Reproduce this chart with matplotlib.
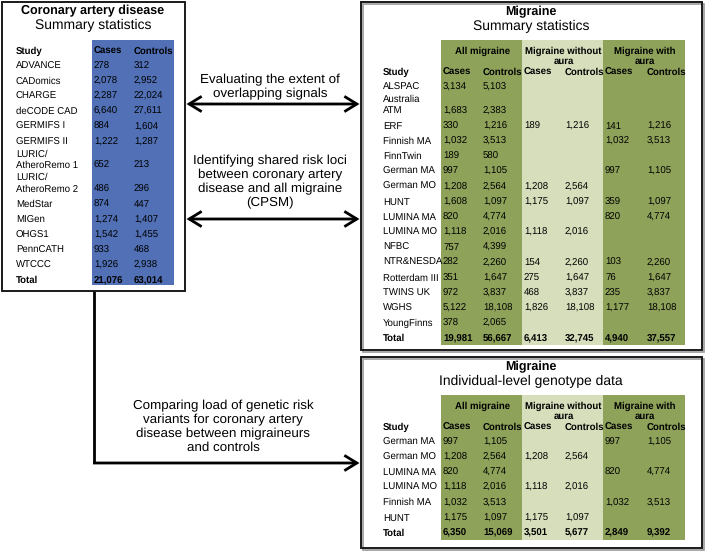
import matplotlib
matplotlib.use("Agg")
import matplotlib.pyplot as plt
from matplotlib.patches import Rectangle, FancyArrowPatch

plt.rcParams['font.family'] = ['Liberation Sans', 'DejaVu Sans']
plt.rcParams['text.hinting'] = 'no_hinting'

# ---------------- data ----------------
cad_studies = ["ADVANCE", "CADomics", "CHARGE", "deCODE CAD", "GERMIFS I", "GERMIFS II",
               "LURIC/\nAtheroRemo 1", "LURIC/\nAtheroRemo 2", "MedStar", "MIGen",
               "OHGS1", "PennCATH", "WTCCC"]
cad_cases = [278, 2078, 2287, 6640, 884, 1222, 652, 486, 874, 1274, 1542, 933, 1926]
cad_controls = [312, 2952, 22024, 27611, 1604, 1287, 213, 296, 447, 1407, 1455, 468, 2938]
cad_total = [21076, 63014]

mig_studies = ["ALSPAC", "Australia\nATM", "ERF", "Finnish MA", "FinnTwin", "German MA",
               "German MO", "HUNT", "LUMINA MA", "LUMINA MO", "NFBC", "NTR&NESDA",
               "Rotterdam III", "TWINS UK", "WGHS", "YoungFinns"]
mig_all_cases = [3134, 1683, 330, 1032, 189, 997, 1208, 1608, 820, 1118, 757, 282, 351, 972, 5122, 378]
mig_all_controls = [5103, 2383, 1216, 3513, 580, 1105, 2564, 1097, 4774, 2016, 4399, 2260, 1647, 3837, 18108, 2065]
mig_mo_cases = [None, None, 189, None, None, None, 1208, 1175, None, 1118, None, 154, 275, 468, 1826, None]
mig_mo_controls = [None, None, 1216, None, None, None, 2564, 1097, None, 2016, None, 2260, 1647, 3837, 18108, None]
mig_ma_cases = [None, None, 141, 1032, None, 997, None, 359, 820, None, None, 103, 76, 235, 1177, None]
mig_ma_controls = [None, None, 1216, 3513, None, 1105, None, 1097, 4774, None, None, 2260, 1647, 3837, 18108, None]
mig_total = [19981, 56667, 6413, 32745, 4940, 37557]

ind_studies = ["German MA", "German MO", "LUMINA MA", "LUMINA MO", "Finnish MA", "HUNT"]
ind_all_cases = [997, 1208, 820, 1118, 1032, 1175]
ind_all_controls = [1105, 2564, 4774, 2016, 3513, 1097]
ind_mo_cases = [None, 1208, None, 1118, None, 1175]
ind_mo_controls = [None, 2564, None, 2016, None, 1097]
ind_ma_cases = [997, None, 820, None, 1032, None]
ind_ma_controls = [1105, None, 4774, None, 3513, None]
ind_total = [6350, 15069, 3501, 5677, 2849, 9392]

group_headers = ["All migraine", "Migraine without\naura", "Migraine with\naura"]
arrow_texts = ["Evaluating the extent of\noverlapping signals",
               "Identifying shared risk loci\nbetween coronary artery\ndisease and all migraine\n(CPSM)",
               "Comparing load of genetic risk\nvariants for coronary artery\ndisease between migraineurs\nand controls"]

# ---------------- style ----------------
BLUE = "#5170B5"
GREEN = "#8EA25A"
LIGHT = "#D6DEBB"
FS_TB = 9.0
FS_T = 10.0
FS_A = 9.6
FS = 6.9
STEP = 15.2
WRAP = 8.6

W, H = 705, 553
fig = plt.figure(figsize=(W / 100, H / 100), dpi=100)
ax = fig.add_axes([0, 0, 1, 1])
ax.set_xlim(0, W)
ax.set_ylim(H, 0)
ax.axis("off")


def fmt(v):
    return "" if v is None else f"{v:,}"


def box(x0, y0, x1, y1, shadow=False):
    if shadow:
        ax.add_patch(Rectangle((x0 + 1.5, y0 + 1.5), x1 - x0, y1 - y0, fill=False,
                               ec="#9a9a9a", lw=1.2, zorder=4))
    ax.add_patch(Rectangle((x0, y0), x1 - x0, y1 - y0, fill=False, ec="#1a1a1a", lw=1.4, zorder=5))


def row_positions(labels, y_first):
    ys = []
    y = y_first
    for i, lab in enumerate(labels):
        n = lab.count("\n")
        if i > 0:
            y += STEP
        y += WRAP * n
        ys.append(y)
    return ys


def txt(x, y, s, bold=False, size=FS, ha="left", va="center", ls=1.12, **kw):
    ax.text(x, y, s, fontsize=size, fontweight="bold" if bold else "normal", ha=ha, va=va,
            linespacing=ls, zorder=6, **kw)


def label(x, y, lab):
    if "\n" in lab:
        a, b = lab.split("\n")
        txt(x, y - 11.8, a)
        txt(x, y, b)
    else:
        txt(x, y, lab)


# ---------------- CAD box ----------------
box(1.5, 1.5, 185, 291)
txt(93, 11, "Coronary artery disease", bold=True, size=FS_TB, ha="center")
txt(93, 25.5, "Summary statistics", size=FS_T, ha="center")
ax.add_patch(Rectangle((92, 40), 82, 245, color=BLUE, lw=0, zorder=1))
ys = row_positions(cad_studies, 66)
txt(16, 51, "Study", bold=True)
txt(94, 51, "Cases", bold=True)
txt(134, 51, "Controls", bold=True)
for lab, y, c, k in zip(cad_studies, ys, cad_cases, cad_controls):
    label(16, y, lab)
    txt(94, y, fmt(c))
    txt(134, y, fmt(k))
yt = ys[-1] + STEP
txt(16, yt, "Total", bold=True)
txt(94, yt, fmt(cad_total[0]), bold=True)
txt(134, yt, fmt(cad_total[1]), bold=True)


# ---------------- migraine tables ----------------
def mig_table(y0, y1, title, subtitle, studies, cols, totals, green_bottom):
    box(361, y0, 702, y1, shadow=True)
    txt(531, y0 + 10, title, bold=True, size=FS_TB, ha="center")
    txt(531, y0 + 24, subtitle, size=FS_T, ha="center")
    gx = [441, 522, 603, 685]
    gtop = y0 + 38
    for i, colr in enumerate([GREEN, LIGHT, GREEN]):
        ax.add_patch(Rectangle((gx[i], gtop), gx[i + 1] - gx[i], green_bottom - gtop,
                               color=colr, lw=0, zorder=1))
        txt((gx[i] + gx[i + 1]) / 2 + 1, gtop + 6.5, group_headers[i], bold=True, ha="center",
            va="top", ls=1.05)
    col_x = [443, 483, 524, 565, 605, 647]
    yh = y0 + 70
    txt(383, yh, "Study", bold=True)
    for j, x in enumerate(col_x):
        txt(x, yh, "Cases" if j % 2 == 0 else "Controls", bold=True)
    ys = row_positions(studies, yh + 15)
    for i, (lab, y) in enumerate(zip(studies, ys)):
        label(383, y, lab)
        for j, x in enumerate(col_x):
            txt(x, y, fmt(cols[j][i]))
    yt = ys[-1] + STEP
    txt(383, yt, "Total", bold=True)
    for j, x in enumerate(col_x):
        txt(x, yt, fmt(totals[j]), bold=True)


mig_table(2, 350, "Migraine", "Summary statistics", mig_studies,
          [mig_all_cases, mig_all_controls, mig_mo_cases, mig_mo_controls, mig_ma_cases, mig_ma_controls],
          mig_total, 345)
mig_table(357, 548, "Migraine", "Individual-level genotype data", ind_studies,
          [ind_all_cases, ind_all_controls, ind_mo_cases, ind_mo_controls, ind_ma_cases, ind_ma_controls],
          ind_total, 540)


# ---------------- arrows ----------------
def arrow(p0, p1, style):
    ax.add_patch(FancyArrowPatch(p0, p1, arrowstyle=style, mutation_scale=10, lw=2,
                                 color="black", shrinkA=0, shrinkB=0, zorder=4,
                                 joinstyle="miter", capstyle="butt"))


astyle2 = "<->,head_length=0.9,head_width=0.55"
astyle1 = "->,head_length=0.9,head_width=0.55"
arrow((186.5, 104), (359.5, 104), astyle2)
arrow((186.5, 219), (359.5, 219), astyle2)
txt(270, 87, arrow_texts[0], size=FS_A, ha="center", ls=1.2)
txt(270, 182, arrow_texts[1], size=FS_A, ha="center", ls=1.2)

ax.plot([94, 94], [291, 463], color="black", lw=2, solid_capstyle="butt", zorder=4)
arrow((93, 463), (359.5, 463), astyle1)
txt(223, 427, arrow_texts[2], size=FS_A, ha="center", ls=1.2)

fig.savefig("out.png", dpi=100)
